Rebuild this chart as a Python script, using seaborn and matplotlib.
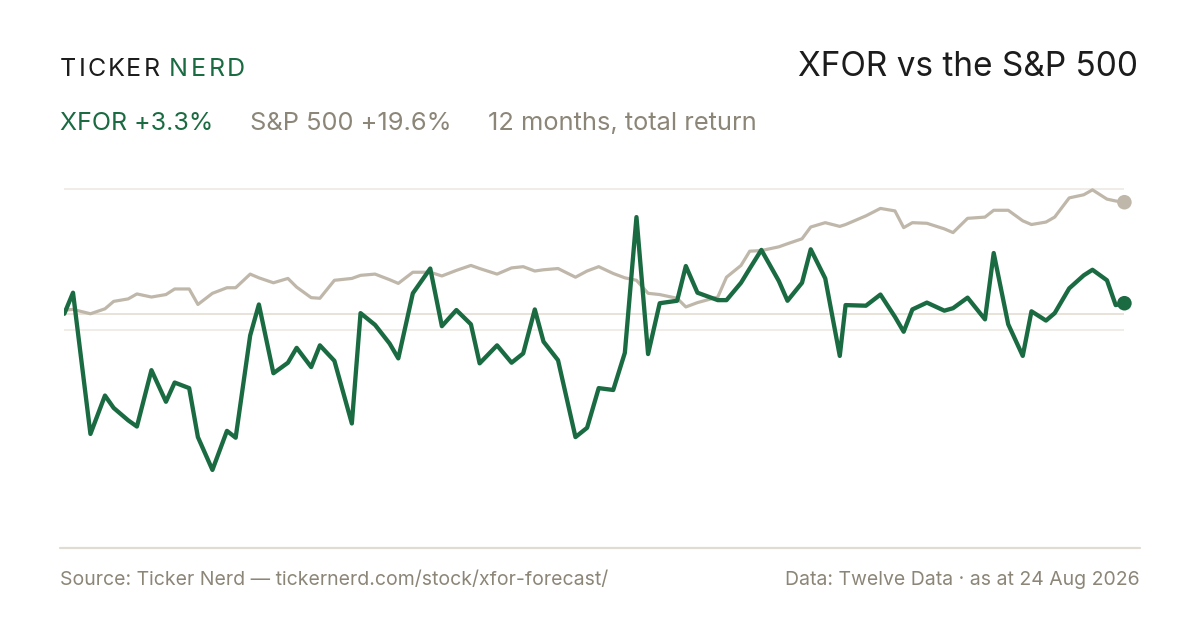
import matplotlib
matplotlib.use("Agg")
import matplotlib.pyplot as plt
import seaborn as sns
import pandas as pd
from matplotlib.lines import Line2D

# days since start of the 12 month window
days = [0, 3, 9, 14, 17, 22, 25, 30, 35, 38, 43, 46, 51, 56, 59, 64, 67, 72, 77, 80,
        85, 88, 93, 99, 102, 107, 112, 115, 120, 126, 130, 135, 140, 143, 149, 154, 158, 162, 165, 170,
        176, 180, 184, 189, 193, 197, 201, 205, 211, 214, 218, 225, 228, 233, 236, 240, 246, 249, 254, 257,
        262, 267, 269, 276, 281, 286, 289, 292, 297, 303, 306, 311, 317, 320, 325, 330, 333, 338, 341, 346,
        351, 354, 359, 362, 365]

# cumulative total return, %
xfor = [1.6, 5.0, -17.8, -11.6, -13.6, -15.6, -16.6, -7.5, -12.6, -9.5, -10.4, -18.3, -23.6, -17.3, -18.4, -1.9, 3.1, -8.0, -6.3, -3.9,
        -7.0, -3.5, -6.0, -16.1, 1.7, -0.2, -3.2, -5.6, 4.9, 8.9, -0.4, 2.2, -0.1, -6.4, -3.5, -6.3, -4.8, 2.3, -2.9, -5.9,
        -18.3, -16.8, -10.4, -10.7, -4.7, 17.2, -4.9, 3.3, 3.7, 9.3, 5.0, 3.8, 3.8, 6.6, 8.9, 11.9, 6.9, 3.7, 6.6, 12.0,
        7.3, -5.2, 3.0, 2.9, 4.7, 1.1, -1.3, 2.3, 3.4, 2.1, 2.5, 4.2, 0.7, 11.4, -0.1, -5.2, 2.0, 0.5, 1.7, 5.7,
        7.8, 8.7, 7.0, 3.0, 3.3]

spx = [2.2, 2.3, 1.6, 2.4, 3.6, 4.0, 4.8, 4.3, 4.7, 5.6, 5.6, 3.1, 4.9, 5.8, 5.8, 8.0, 7.4, 6.6, 7.3, 5.9,
       4.2, 4.1, 7.0, 7.3, 7.8, 8.0, 7.1, 6.5, 8.3, 8.3, 7.7, 8.6, 9.4, 8.9, 8.0, 9.0, 9.2, 8.5, 8.7, 8.9,
       7.5, 8.5, 9.2, 8.1, 7.4, 7.0, 4.9, 4.7, 4.1, 2.7, 3.4, 4.3, 7.5, 9.4, 11.7, 11.8, 12.4, 12.9, 13.7, 15.6,
       16.3, 15.7, 16.0, 17.4, 18.6, 18.2, 15.5, 16.3, 16.2, 15.3, 14.7, 17.0, 17.2, 18.3, 18.3, 16.6, 16.0, 16.4, 17.2, 20.3,
       20.8, 21.6, 20.1, 19.8, 19.6]

grid_vals = [21.7, -1.0]
base_val = 1.5

GREEN = "#1a6b42"
SAND = "#bfb7aa"
MUTED = "#8c8678"
INK = "#1c1c1c"

df = pd.DataFrame({"day": days * 2,
                   "ret": xfor + spx,
                   "series": ["XFOR"] * len(days) + ["S&P 500"] * len(days)})

sns.set_theme(style="white")
plt.rcParams["font.family"] = ["Inter", "DejaVu Sans"]

fig = plt.figure(figsize=(12, 6.3), dpi=100)
fig.patch.set_facecolor("white")
ax = fig.add_axes([64.3 / 1200, 1 - 548 / 630, 1060.1 / 1200, 378 / 630])

for v in grid_vals:
    ax.axhline(v, color="#eeeae4", lw=1.2, zorder=0)
ax.axhline(base_val, color="#e4ddd2", lw=1.2, zorder=0)

sns.lineplot(data=df, x="day", y="ret", hue="series", hue_order=["S&P 500", "XFOR"],
             palette={"XFOR": GREEN, "S&P 500": SAND}, size="series",
             sizes={"XFOR": 3.1, "S&P 500": 2.3}, legend=False, ax=ax, zorder=3)

last = df.groupby("series").tail(1)
sns.scatterplot(data=last, x="day", y="ret", hue="series",
                palette={"XFOR": GREEN, "S&P 500": SAND}, s=110, edgecolor="none",
                legend=False, ax=ax, zorder=4, clip_on=False)

ax.set_xlim(0, 365)
ax.set_ylim(-36.2, 24.8)
ax.axis("off")

# bottom rule
fig.add_artist(Line2D([60 / 1200, 1140 / 1200], [1 - 548 / 630] * 2,
                      color="#e0dcd4", lw=1.6, transform=fig.transFigure))


def spaced(x, y, s, color, size, track):
    r = fig.canvas.get_renderer()
    for ch in s:
        t = fig.text(x, y, ch, color=color, fontsize=size, va="center", ha="left")
        w = t.get_window_extent(renderer=r).width / 1200
        x += w + track / 1200
    return x


spaced(60 / 1200, 1 - 70 / 630, "TICKER", INK, 18, 2.0)
spaced(169 / 1200, 1 - 70 / 630, "NERD", GREEN, 18, 2.6)

fig.text(1138 / 1200, 1 - 67 / 630, "XFOR vs the S&P 500", color=INK, fontsize=24,
         ha="right", va="center")

fig.text(60 / 1200, 1 - 124 / 630, "XFOR +3.3%", color=GREEN, fontsize=18, va="center")
fig.text(250 / 1200, 1 - 124 / 630, "S&P 500 +19.6%", color=MUTED, fontsize=18.3, va="center")
fig.text(488 / 1200, 1 - 124 / 630, "12 months, total return", color=MUTED, fontsize=18.3, va="center")

fig.text(60 / 1200, 1 - 580 / 630, "Source: Ticker Nerd \u2014 tickernerd.com/stock/xfor-forecast/",
         color=MUTED, fontsize=14, va="center")
fig.text(1140 / 1200, 1 - 580 / 630, "Data: Twelve Data \u00b7 as at 24 Aug 2026",
         color=MUTED, fontsize=14, va="center", ha="right")

fig.savefig("out.png", dpi=100, facecolor="white")
